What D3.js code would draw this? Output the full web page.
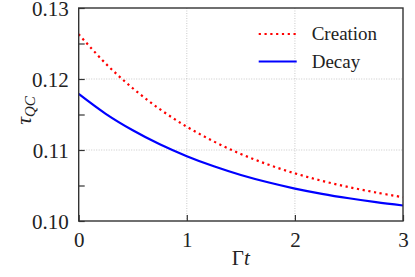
<!DOCTYPE html>
<html>
<head>
<meta charset="utf-8">
<script src="https://cdn.jsdelivr.net/npm/d3@7"></script>
<style>
  body { margin: 0; background: #fff; }
</style>
</head>
<body>
<div id="chart"></div>
<script>
// values
var times = [0, 0.25, 0.5, 0.75, 1, 1.25, 1.5, 1.75, 2, 2.25, 2.5, 2.75, 3];
var creation = [0.12630, 0.12217, 0.11870, 0.11576, 0.11328, 0.11120, 0.10944, 0.10796, 0.10671, 0.10566, 0.10477, 0.10402, 0.10334];
var decay = [0.11790, 0.11510, 0.11278, 0.11080, 0.10913, 0.10770, 0.10648, 0.10545, 0.10457, 0.10383, 0.10320, 0.10265, 0.10218];
var xTicks = [0, 1, 2, 3];
var yTicks = [0.10, 0.11, 0.12, 0.13];
var yMinor = [0.105, 0.115, 0.125];
var seriesNames = ["Creation", "Decay"];

var serif = "'Liberation Serif', 'DejaVu Serif', serif";
var width = 415, height = 277;
var margin = { top: 8, right: 12, bottom: 56, left: 78.7 };
var w = width - margin.left - margin.right, h = height - margin.top - margin.bottom;

var x = d3.scaleLinear().domain([0, 3]).range([0, w]);
var y = d3.scaleLinear().domain([0.10, 0.13]).range([h, 0]);

var svg = d3.select("#chart").append("svg")
    .attr("width", width)
    .attr("height", height)
    .attr("font-family", serif);
var g = svg.append("g")
    .attr("transform", "translate(" + margin.left + "," + margin.top + ")");

// grid
g.selectAll(".gx").data(xTicks.slice(1, -1)).enter().append("line")
    .attr("x1", function (d) { return x(d); }).attr("x2", function (d) { return x(d); })
    .attr("y1", 0).attr("y2", h)
    .attr("stroke", "#bbb").attr("stroke-width", 0.8).attr("stroke-dasharray", "1,1.5");
g.selectAll(".gy").data(yTicks.slice(1, -1)).enter().append("line")
    .attr("y1", function (d) { return y(d); }).attr("y2", function (d) { return y(d); })
    .attr("x1", 0).attr("x2", w)
    .attr("stroke", "#bbb").attr("stroke-width", 0.8).attr("stroke-dasharray", "1,1.5");

// lines
var line = d3.line()
    .x(function (d, i) { return x(times[i]); })
    .y(function (d) { return y(d); })
    .curve(d3.curveCatmullRom);

g.append("path").datum(creation)
    .attr("d", line).attr("fill", "none")
    .attr("stroke", "#ff0000").attr("stroke-width", 2.2)
    .attr("stroke-dasharray", "2.2,3.6");
g.append("path").datum(decay)
    .attr("d", line).attr("fill", "none")
    .attr("stroke", "#0000ff").attr("stroke-width", 2.2);

// axes (inward ticks)
var xAxis = d3.axisBottom(x).tickValues(xTicks).tickSize(-6).tickPadding(10).tickFormat(d3.format("d"));
var yAxis = d3.axisLeft(y).tickValues(yTicks.concat(yMinor)).tickSize(-6).tickPadding(10)
    .tickFormat(function (d) { return yMinor.indexOf(d) >= 0 ? "" : d3.format(".2f")(d); });

var gx = g.append("g").attr("transform", "translate(0," + h + ")").call(xAxis);
var gy = g.append("g").call(yAxis);
[gx, gy].forEach(function (a) {
  a.attr("font-family", serif).attr("font-size", 21);
  a.select(".domain").remove();
  a.selectAll(".tick line").attr("stroke", "#333").attr("stroke-width", 1.2);
  a.selectAll("text").attr("font-family", serif).attr("font-size", 21).attr("fill", "#222");
});
gx.selectAll("text").attr("dy", "0.75em");
gy.selectAll("text").attr("dy", "0.36em");

// frame
g.append("rect").attr("width", w).attr("height", h)
    .attr("fill", "none").attr("stroke", "#333").attr("stroke-width", 1.4);

// axis labels
var xl = svg.append("text")
    .attr("x", margin.left + w / 2).attr("y", 265)
    .attr("text-anchor", "middle").attr("font-size", 21).attr("fill", "#222");
xl.append("tspan").text("Γ");
xl.append("tspan").attr("font-style", "italic").text("t");

var yl = svg.append("text")
    .attr("transform", "translate(31," + (margin.top + h / 2 - 4) + ") rotate(-90)")
    .attr("text-anchor", "middle").attr("font-size", 22).attr("fill", "#222");
yl.append("tspan").attr("font-style", "italic").text("τ");
yl.append("tspan").attr("font-style", "italic").attr("font-size", 15).attr("dy", 4).text("QC");

// legend
var legend = g.append("g").attr("transform", "translate(180,0)");
seriesNames.forEach(function (name, i) {
  var ly = 26 + i * 27.5;
  legend.append("line")
      .attr("x1", 0).attr("x2", 38).attr("y1", ly).attr("y2", ly)
      .attr("stroke", i === 0 ? "#ff0000" : "#0000ff").attr("stroke-width", 2.2)
      .attr("stroke-dasharray", i === 0 ? "2.2,3.6" : null);
  legend.append("text")
      .attr("x", 53).attr("y", ly + 6)
      .attr("font-size", 19).attr("fill", "#222").text(name);
});
</script>
</body>
</html>
